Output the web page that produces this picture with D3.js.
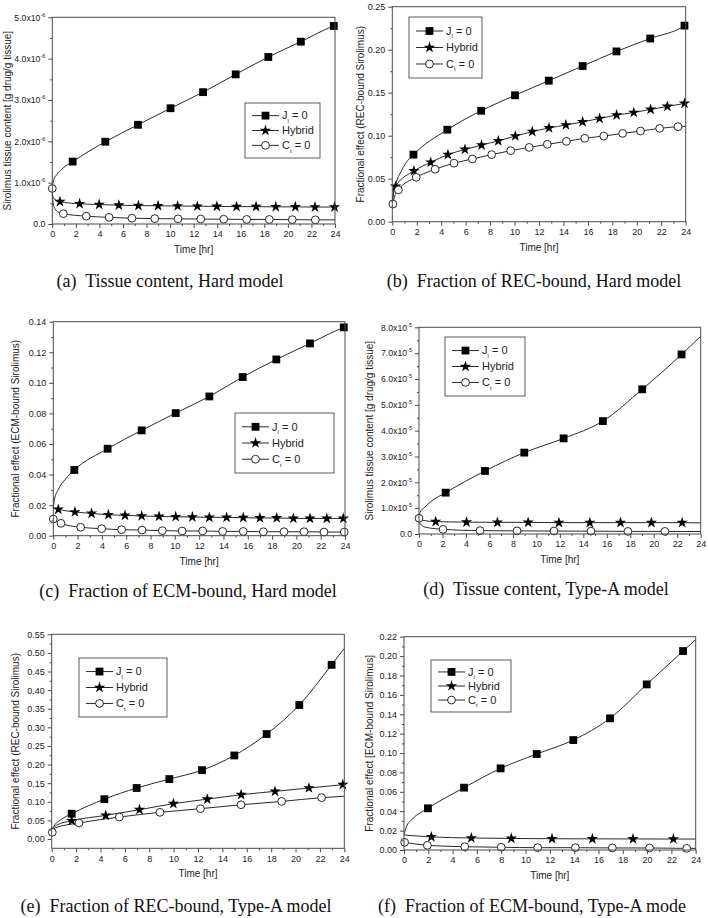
<!DOCTYPE html>
<html><head><meta charset="utf-8">
<script src="https://cdn.jsdelivr.net/npm/d3@7"></script>
<style>body{margin:0;background:#fff}svg{display:block}</style>
</head><body>
<svg id="chart" width="708" height="918"></svg>
<script>
// ---------------- DATA ----------------
const timeTicks = [0,2,4,6,8,10,12,14,16,18,20,22,24];
const seriesLabels = ["J|l| = 0", "Hybrid", "C|t| = 0"];
const captions = ["(a)  Tissue content, Hard model","(b)  Fraction of REC-bound, Hard model","(c)  Fraction of ECM-bound, Hard model","(d)  Tissue content, Type-A model","(e)  Fraction of REC-bound, Type-A model","(f)  Fraction of ECM-bound, Type-A mode"];
const yTitles = ["Sirolimus tissue content [g drug/g tissue]","Fractional effect (REC-bound Sirolimus)","Fractional effect (ECM-bound Sirolimus)","Sirolimus tissue content [g drug/g tissue]","Fractional effect (REC-bound Sirolimus)","Fractional effect [ECM-bound Sirolimus]"];
const xTitle = "Time [hr]";

// (a) Tissue content, Hard model
const aYTicks = [0,1e-6,2e-6,3e-6,4e-6,5e-6];
const aJMarkers = [[1.73,1.51e-6],[4.5,1.99e-6],[7.27,2.40e-6],[10.04,2.80e-6],[12.8,3.19e-6],[15.57,3.62e-6],[18.34,4.04e-6],[21.1,4.41e-6],[23.9,4.79e-6]];
const aJExtra = [[0,0.88e-6],[0.1,1.05e-6],[0.4,1.2e-6],[0.9,1.35e-6],[24,4.8e-6]];
const aHMarkers = [[0.65,0.54e-6],[2.32,0.49e-6],[3.98,0.47e-6],[5.65,0.455e-6],[7.31,0.445e-6],[8.98,0.44e-6],[10.64,0.435e-6],[12.31,0.43e-6],[13.97,0.425e-6],[15.64,0.42e-6],[17.3,0.42e-6],[18.97,0.415e-6],[20.63,0.415e-6],[22.3,0.41e-6],[23.96,0.41e-6]];
const aHExtra = [[0,0.86e-6],[0.03,0.68e-6],[0.2,0.6e-6]];
const aCMarkers = [[0,0.86e-6],[0.94,0.25e-6],[2.89,0.19e-6],[4.82,0.16e-6],[6.76,0.14e-6],[8.7,0.13e-6],[10.67,0.125e-6],[12.6,0.12e-6],[14.55,0.115e-6],[16.5,0.11e-6],[18.42,0.11e-6],[20.37,0.105e-6],[22.33,0.10e-6]];
const aCExtra = [[0.05,0.55e-6],[0.2,0.38e-6],[0.5,0.29e-6],[24,0.10e-6]];

// (b) Fraction of REC-bound, Hard model
const bYTicks = [0,0.05,0.10,0.15,0.20,0.25];
const bJMarkers = [[1.73,0.078],[4.5,0.107],[7.27,0.129],[10.04,0.147],[12.8,0.164],[15.57,0.181],[18.34,0.198],[21.1,0.213],[23.9,0.228]];
const bJExtra = [[0,0.022],[0.1,0.034],[0.3,0.045],[0.7,0.058],[1.1,0.068],[24,0.229]];
const bHMarkers = [[0.27,0.041],[1.77,0.059],[3.14,0.069],[4.55,0.078],[5.94,0.084],[7.3,0.089],[8.67,0.094],[10.06,0.0996],[11.45,0.1047],[12.82,0.109],[14.2,0.1124],[15.57,0.116],[16.96,0.120],[18.35,0.124],[19.75,0.127],[21.13,0.1306],[22.5,0.134],[23.9,0.1376]];
const bHExtra = [[0,0.022],[0.1,0.033]];
const bCMarkers = [[0.05,0.0205],[0.5,0.037],[1.96,0.0516],[3.5,0.061],[5.05,0.068],[6.55,0.073],[8.13,0.078],[9.68,0.0826],[11.2,0.0864],[12.68,0.090],[14.24,0.0934],[15.74,0.097],[17.3,0.0996],[18.84,0.1027],[20.3,0.1054],[21.87,0.1085],[23.37,0.1105]];
const bCExtra = [[0.2,0.03],[24,0.111]];

// (c) Fraction of ECM-bound, Hard model
const cYTicks = [0,0.02,0.04,0.06,0.08,0.10,0.12,0.14];
const cJMarkers = [[1.73,0.043],[4.47,0.0569],[7.27,0.0689],[10.07,0.0802],[12.84,0.0911],[15.58,0.1038],[18.35,0.1153],[21.12,0.1258],[23.9,0.1363]];
const cJExtra = [[0,0.018],[0.1,0.024],[0.4,0.03],[1,0.037],[24,0.1366]];
const cHMarkers = [[0.41,0.0172],[1.78,0.0155],[3.15,0.0146],[4.53,0.0137],[5.9,0.0133],[7.27,0.0129],[8.7,0.0126],[10.07,0.0124],[11.44,0.0122],[12.84,0.012],[14.26,0.012],[15.63,0.0118],[17.0,0.0116],[18.38,0.0116],[19.75,0.0113],[21.12,0.0113],[22.5,0.0113],[23.86,0.0113]];
const cHExtra = [[0,0.018]];
const cCMarkers = [[0,0.0109],[0.63,0.0081],[2.25,0.0055],[3.98,0.0046],[5.62,0.0039],[7.3,0.0037],[8.97,0.0033],[10.6,0.0031],[12.29,0.0031],[13.93,0.0028],[15.63,0.0028],[17.28,0.0026],[18.98,0.0026],[20.63,0.0026],[22.27,0.0024],[23.94,0.0024]];
const cCExtra = [[24,0.0024]];

// (d) Tissue content, Type-A model
const dYTicks = [0,1e-5,2e-5,3e-5,4e-5,5e-5,6e-5,7e-5,8e-5];
const dJMarkers = [[2.27,1.6e-5],[5.62,2.44e-5],[8.97,3.15e-5],[12.32,3.70e-5],[15.67,4.37e-5],[19.02,5.6e-5],[22.37,6.95e-5]];
const dJExtra = [[0,0.65e-5],[0.1,0.85e-5],[0.4,1.0e-5],[1,1.25e-5],[24,7.65e-5]];
const dHMarkers = [[1.42,0.48e-5],[4.05,0.46e-5],[6.68,0.45e-5],[9.3,0.45e-5],[11.92,0.44e-5],[14.55,0.44e-5],[17.17,0.44e-5],[19.8,0.44e-5],[22.42,0.44e-5]];
const dHExtra = [[0,0.62e-5],[0.3,0.53e-5],[24,0.43e-5]];
const dCMarkers = [[0,0.61e-5],[2.05,0.18e-5],[5.2,0.13e-5],[8.35,0.12e-5],[11.5,0.115e-5],[14.65,0.11e-5],[17.8,0.10e-5],[20.95,0.10e-5]];
const dCExtra = [[0.1,0.4e-5],[0.5,0.27e-5],[24,0.095e-5]];

// (e) Fraction of REC-bound, Type-A model
const eYTicks = [0,0.05,0.10,0.15,0.20,0.25,0.30,0.35,0.40,0.45,0.50,0.55];
const eJMarkers = [[1.64,0.068],[4.32,0.107],[6.97,0.137],[9.65,0.161],[12.33,0.185],[14.98,0.2245],[17.63,0.282],[20.31,0.36],[22.96,0.468]];
const eJExtra = [[0,0.025],[0.3,0.04],[0.8,0.053],[24,0.512]];
const eHMarkers = [[1.64,0.049],[4.43,0.0635],[7.2,0.0787],[9.98,0.0948],[12.76,0.107],[15.54,0.119],[18.32,0.128],[21.1,0.137],[23.88,0.146]];
const eHExtra = [[0,0.025],[0.4,0.037]];
const eCMarkers = [[0.05,0.018],[2.24,0.043],[5.55,0.059],[8.88,0.0716],[12.2,0.0814],[15.53,0.092],[18.86,0.101],[22.14,0.111]];
const eCExtra = [[0.3,0.03],[24,0.115]];

// (f) Fraction of ECM-bound, Type-A model
const fYTicks = [0,0.02,0.04,0.06,0.08,0.10,0.12,0.14,0.16,0.18,0.20,0.22];
const fJMarkers = [[1.97,0.043],[4.94,0.0643],[7.95,0.0842],[10.92,0.099],[13.93,0.1134],[16.95,0.1358],[19.97,0.1708],[22.96,0.2052]];
const fJExtra = [[0,0.016],[0.2,0.024],[0.7,0.032],[24,0.217]];
const fHMarkers = [[2.25,0.0135],[5.54,0.0124],[8.83,0.0119],[12.18,0.0116],[15.5,0.0115],[18.84,0.0114],[22.16,0.0113]];
const fHExtra = [[0,0.0155],[24,0.0113]];
const fCMarkers = [[0.05,0.0079],[1.92,0.0048],[5.0,0.0034],[8.0,0.0028],[11.0,0.0024],[14.1,0.0024],[17.14,0.0021],[20.2,0.0021],[23.26,0.0017]];
const fCExtra = [[24,0.0017]];

// ---------------- LAYOUT ----------------
const panels = [
  {box:[52.3,17.3,335,224], yDom:[0,5e-6], ticks:aYTicks, exp:-6, titleX:7.5, cap:[170,287], leg:[245,103,75,55],
   series:[[aJMarkers,aJExtra],[aHMarkers,aHExtra],[aCMarkers,aCExtra]]},
  {box:[392.3,6.7,685.7,221.7], yDom:[0,0.25], ticks:bYTicks, dec:2, titleX:360, cap:[534,287], leg:[409,17,73,61],
   series:[[bJMarkers,bJExtra],[bHMarkers,bHExtra],[bCMarkers,bCExtra]]},
  {box:[53.3,321.7,345,535.7], yDom:[0,0.14], ticks:cYTicks, dec:2, titleX:15, cap:[188,597], leg:[235,413,99,60],
   series:[[cJMarkers,cJExtra],[cHMarkers,cHExtra],[cCMarkers,cCExtra]]},
  {box:[419,327.3,700.7,534], yDom:[0,8e-5], ticks:dYTicks, exp:-5, titleX:369, cap:[546,595], leg:[445,337,80,59],
   series:[[dJMarkers,dJExtra],[dHMarkers,dHExtra],[dCMarkers,dCExtra]]},
  {box:[51.7,634.3,344.3,848.3], yDom:[-0.025,0.55], ticks:eYTicks, dec:2, titleX:15, cap:[176,912], leg:[79,658,88,59],
   series:[[eJMarkers,eJExtra],[eHMarkers,eHExtra],[eCMarkers,eCExtra]]},
  {box:[404,636.7,695.7,850], yDom:[0,0.22], ticks:fYTicks, dec:2, titleX:369, cap:[532,912], leg:[431,660,80,52],
   series:[[fJMarkers,fJExtra],[fHMarkers,fHExtra],[fCMarkers,fCExtra]]}
];

const svg = d3.select("#chart");
const AX = "#4a4a4a", LN = "#2a2a2a";
const SANS = "'Liberation Sans', Arial, sans-serif";
const SERIF = "'Liberation Serif', 'Times New Roman', serif";

function drawMarker(g, kind, x, y) {
  if (kind === 0) {
    g.append("rect").attr("x", x-3.9).attr("y", y-3.9).attr("width", 7.8).attr("height", 7.8).attr("fill", "#000");
  } else if (kind === 1) {
    g.append("path").attr("transform", `translate(${x},${y})`).attr("d", d3.symbol(d3.symbolStar, 40)()).attr("fill", "#000");
  } else {
    g.append("circle").attr("cx", x).attr("cy", y).attr("r", 3.9).attr("fill", "#fff").attr("stroke", "#111").attr("stroke-width", 0.9);
  }
}

function labelText(sel, str, fs) {
  const parts = str.split("|");
  if (parts.length === 1) { sel.text(str); return; }
  sel.append("tspan").text(parts[0]);
  sel.append("tspan").attr("font-size", fs*0.55).attr("dy", 3.5).text(parts[1]);
  sel.append("tspan").attr("dy", -3.5).text(parts[2]);
}

panels.forEach((p, pi) => {
  const [x0, y0, x1, y1] = p.box;
  const x = d3.scaleLinear().domain([0,24]).range([x0,x1]);
  const y = d3.scaleLinear().domain(p.yDom).range([y1,y0]);
  const g = svg.append("g");

  p.series.forEach((s) => {
    const pts = s[0].concat(s[1]).sort((a,b)=>a[0]-b[0]);
    const line = d3.line().x(d=>x(d[0])).y(d=>y(d[1])).curve(d3.curveMonotoneX);
    g.append("path").attr("d", line(pts)).attr("fill","none").attr("stroke",LN).attr("stroke-width",1);
  });
  p.series.forEach((s, si) => {
    s[0].forEach(d => drawMarker(g, si, x(d[0]), y(d[1])));
  });

  g.append("rect").attr("x",x0).attr("y",y0).attr("width",x1-x0).attr("height",y1-y0)
    .attr("fill","none").attr("stroke",AX).attr("stroke-width",1);

  const xa = g.append("g").attr("transform",`translate(0,${y1})`)
    .call(d3.axisBottom(x).tickValues(timeTicks).tickSize(4).tickPadding(3).tickFormat(d3.format("d")));
  const xm = g.append("g").attr("transform",`translate(0,${y1})`)
    .call(d3.axisBottom(x).tickValues(d3.range(1,24,2)).tickSize(2).tickFormat(""));
  const ya = g.append("g").attr("transform",`translate(${x0},0)`)
    .call(d3.axisLeft(y).tickValues(p.ticks).tickSize(4).tickPadding(3).tickFormat(p.exp ? "" : d3.format(`.${p.dec}f`)));
  const minorY = d3.range(p.ticks.length-1).map(i => (p.ticks[i]+p.ticks[i+1])/2);
  const ym = g.append("g").attr("transform",`translate(${x0},0)`)
    .call(d3.axisLeft(y).tickValues(minorY).tickSize(2).tickFormat(""));
  [xa,xm,ya,ym].forEach(a => {
    a.select(".domain").remove();
    a.selectAll("line").attr("stroke",AX);
    a.selectAll("text").attr("font-family",SANS).attr("font-size",9).attr("fill","#222");
  });
  if (p.exp) {
    ya.selectAll(".tick text").each(function(v){
      const t = d3.select(this);
      t.text(null).attr("font-size",8.7);
      if (v === 0) { t.text("0.0"); return; }
      const m = v / Math.pow(10, p.exp);
      t.append("tspan").text(m.toFixed(1) + "x10");
      t.append("tspan").attr("font-size",5.5).attr("dy",-4).text(String(p.exp));
    });
  }

  g.append("text").attr("x",(x0+x1)/2).attr("y",y1+29).attr("text-anchor","middle")
    .attr("font-family",SANS).attr("font-size",10).attr("fill","#222").text(xTitle);
  g.append("text").attr("transform",`translate(${p.titleX},${(y0+y1)/2}) rotate(-90)`).attr("text-anchor","middle")
    .attr("dy","0.35em").attr("font-family",SANS).attr("font-size",10).attr("fill","#222").text(yTitles[pi]);

  const [lx, ly, lw, lh] = p.leg;
  const lg = g.append("g");
  lg.append("rect").attr("x",lx).attr("y",ly).attr("width",lw).attr("height",lh).attr("fill","#fff").attr("stroke",AX).attr("stroke-width",0.9);
  const rowH = lh/3.7;
  seriesLabels.forEach((lab, i) => {
    const cy = ly + rowH*(0.85 + i);
    lg.append("line").attr("x1",lx+7).attr("x2",lx+34).attr("y1",cy).attr("y2",cy).attr("stroke",LN).attr("stroke-width",1);
    drawMarker(lg, i, lx+20.5, cy);
    const t = lg.append("text").attr("x",lx+37).attr("y",cy).attr("dy","0.35em")
      .attr("font-family",SANS).attr("font-size",11).attr("fill","#222");
    labelText(t, lab, 11);
  });

  svg.append("text").attr("x",p.cap[0]).attr("y",p.cap[1]).attr("text-anchor","middle")
    .attr("font-family",SERIF).attr("font-size",18).attr("fill","#111").style("white-space","pre").text(captions[pi]);
});
</script>
</body></html>
